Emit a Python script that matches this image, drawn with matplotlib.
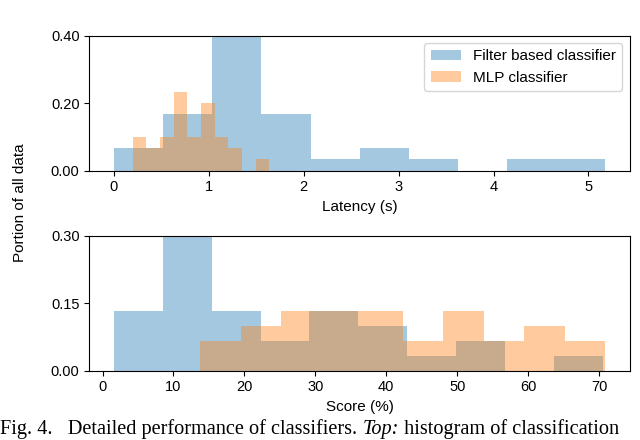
import numpy as np
import matplotlib
matplotlib.use("Agg")
import matplotlib.pyplot as plt

plt.rcParams['font.family'] = ['Liberation Sans', 'DejaVu Sans']

n_runs = 30

# latency histograms (seconds): bin edges and counts out of n_runs
lat_filter_edges = np.linspace(0.0, 5.18, 11)
lat_filter_counts = [2, 5, 12, 5, 1, 2, 1, 0, 1, 1]
lat_mlp_edges = np.linspace(0.197, 1.637, 11)
lat_mlp_counts = [3, 2, 3, 7, 3, 6, 3, 2, 0, 1]

# score histograms (%)
score_filter_edges = np.linspace(1.6, 70.5, 11)
score_filter_counts = [4, 9, 4, 2, 4, 3, 1, 2, 0, 1]
score_mlp_edges = np.linspace(13.75, 70.9, 11)
score_mlp_counts = [2, 3, 4, 4, 4, 2, 4, 2, 3, 2]

labels = ["Filter based classifier", "MLP classifier"]
blue = "#1f77b4"
orange = "#ff7f0e"

fig = plt.figure(figsize=(6.4, 4.4), dpi=100)
ax1 = fig.add_axes([0.1395, 0.612, 0.845, 0.307])
ax2 = fig.add_axes([0.1395, 0.1575, 0.845, 0.307])


def draw_hist(ax, edges, counts, color, label):
    w = np.array(counts) / n_runs
    ax.hist(edges[:-1], bins=edges, weights=w, color=color, alpha=0.4, label=label)


draw_hist(ax1, lat_filter_edges, lat_filter_counts, blue, labels[0])
draw_hist(ax1, lat_mlp_edges, lat_mlp_counts, orange, labels[1])
ax1.set_ylim(0, 0.40)
ax1.set_yticks([0.0, 0.2, 0.4])
ax1.set_yticklabels(["0.00", "0.20", "0.40"])
ax1.set_xlabel("Latency (s)", fontsize=11)
ax1.legend(loc="upper right", fontsize=11)

draw_hist(ax2, score_filter_edges, score_filter_counts, blue, labels[0])
draw_hist(ax2, score_mlp_edges, score_mlp_counts, orange, labels[1])
ax2.set_ylim(0, 0.30)
ax2.set_yticks([0.0, 0.15, 0.3])
ax2.set_yticklabels(["0.00", "0.15", "0.30"])
ax2.set_xticks(range(0, 71, 10))
ax2.set_xlabel("Score (%)", fontsize=11)

for ax in (ax1, ax2):
    ax.tick_params(labelsize=10.5)

fig.text(0.032, 0.539, "Portion of all data", rotation=90, ha="center", va="center", fontsize=11)

# caption line from the paper page
cap = dict(fontsize=14.6, family="Liberation Serif", va="baseline")
t = fig.text(0.0, 0.013, "Fig. 4.   Detailed performance of classifiers. ", **cap)
fig.canvas.draw()
r = fig.canvas.get_renderer()
x = t.get_window_extent(r).x1 / fig.bbox.width
t2 = fig.text(x, 0.013, "Top:", style="italic", **cap)
x = t2.get_window_extent(r).x1 / fig.bbox.width
fig.text(x, 0.013, " histogram of classification", **cap)

fig.savefig("out.png", dpi=100)
